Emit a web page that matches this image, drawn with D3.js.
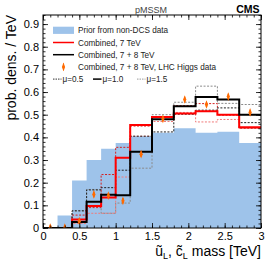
<!DOCTYPE html>
<html>
<head>
<meta charset="utf-8">
<script src="https://cdn.jsdelivr.net/npm/d3@7"></script>
<style>
  body { margin: 0; background: #fff; }
  svg { display: block; font-family: "Liberation Sans", Arial, sans-serif; }
</style>
</head>
<body>
<svg width="274" height="263"></svg>
<script>
// bin edges in TeV
const edges = [0, 0.2, 0.4, 0.6, 0.8, 1.0, 1.2, 1.5, 1.8, 2.1, 2.4, 2.7, 3.0];

// prior from non-DCS data
const prior = [0, 0.055, 0.21, 0.30, 0.35, 0.375, 0.405, 0.42, 0.44, 0.42, 0.425, 0.375];

// combined 7 TeV (mu = 1.0, 0.5, 1.5)
const comb7 = [0, 0, 0.038, 0.097, 0.135, 0.31, 0.455, 0.49, 0.505, 0.515, 0.50, 0.445];
const comb7mu05 = [0, 0, 0.057, 0.09, 0.236, 0.356, 0.45, 0.49, 0.54, 0.549, 0.498, 0.44];
const comb7mu15 = [0, 0, 0.02, 0.065, 0.065, 0.225, 0.405, 0.47, 0.51, 0.468, 0.479, 0.44];

// combined 7 + 8 TeV (mu = 1.0, 0.5, 1.5)
const comb78 = [0, 0, 0.026, 0.116, 0.147, 0.145, 0.337, 0.48, 0.537, 0.578, 0.567, 0.50];
const comb78mu05 = [0, 0, 0.076, 0.168, 0.178, 0.255, 0.405, 0.424, 0.502, 0.52, 0.53, 0.465];
const comb78mu15 = [0, 0, 0.075, 0.17, 0.065, 0.11, 0.264, 0.50, 0.555, 0.626, 0.55, 0.545];

// combined 7 + 8 TeV with LHC Higgs data (points)
const higgs = [0.002, 0.002, 0.03, 0.148, 0.143, 0.12, 0.326, 0.482, 0.567, 0.545, 0.58, 0.51];
const higgsErr = 0.012;

const xTicks = [0, 0.5, 1, 1.5, 2, 2.5, 3];
const yTicks = [0, 0.1, 0.2, 0.3, 0.4, 0.5, 0.6, 0.7, 0.8, 0.9];

const svg = d3.select("svg");
const area = { left: 43, right: 261, top: 15, bottom: 228 };

const x = d3.scaleLinear().domain([0, 3]).range([area.left, area.right]);
const y = d3.scaleLinear().domain([0, 0.94]).range([area.bottom, area.top]);

function stepPoints(vals) {
    return edges.map((e, i) => [e, vals[Math.min(i, vals.length - 1)]]);
}

const stepLine = d3.line()
    .x(d => x(d[0]))
    .y(d => y(d[1]))
    .curve(d3.curveStepAfter);

const stepArea = d3.area()
    .x(d => x(d[0]))
    .y0(y(0))
    .y1(d => y(d[1]))
    .curve(d3.curveStepAfter);

svg.append("clipPath").attr("id", "clip")
    .append("rect")
    .attr("x", area.left).attr("y", area.top)
    .attr("width", area.right - area.left)
    .attr("height", area.bottom - area.top);

let plot = svg.append("g").attr("clip-path", "url(#clip)");

plot.append("path")
    .attr("d", stepArea(stepPoints(prior)))
    .attr("fill", "#9ec3ea");

const dotted = [
    { vals: comb78mu15, color: "#8a8a8a" },
    { vals: comb7mu15, color: "#f07a7a" },
    { vals: comb7mu05, color: "#d42020" },
    { vals: comb78mu05, color: "#222" },
];
dotted.forEach(s => {
    plot.append("path")
        .attr("d", stepLine(stepPoints(s.vals)))
        .attr("fill", "none")
        .attr("stroke", s.color)
        .attr("stroke-width", 1)
        .attr("stroke-dasharray", "2,1.5");
});

plot.append("path")
    .attr("d", stepLine(stepPoints(comb7)))
    .attr("fill", "none")
    .attr("stroke", "#ff0000")
    .attr("stroke-width", 2);

plot.append("path")
    .attr("d", stepLine(stepPoints(comb78)))
    .attr("fill", "none")
    .attr("stroke", "#000")
    .attr("stroke-width", 2);

const centers = edges.slice(0, -1).map((e, i) => (e + edges[i + 1]) / 2);
const diamond = d3.symbol().type(d3.symbolDiamond).size(14);

let pts = plot.selectAll(".pt")
    .data(higgs)
    .enter()
    .append("g")
    .attr("transform", (d, i) => `translate(${x(centers[i])}, ${y(d)})`);
pts.append("line")
    .attr("y1", d => y(d - higgsErr) - y(d))
    .attr("y2", d => y(d + higgsErr) - y(d))
    .attr("stroke", "#ff6a00")
    .attr("stroke-width", 1.2);
pts.append("path")
    .attr("d", diamond)
    .attr("transform", "scale(0.8,1.25)")
    .attr("fill", "#ff6a00");

// axes, ROOT style ticks inside on all four sides
function minor(step, max) {
    return d3.range(0, max + 1e-9, step);
}

svg.append("g")
    .attr("transform", `translate(0, ${area.bottom})`)
    .call(d3.axisBottom(x).tickValues(minor(0.1, 3)).tickSize(-2.5).tickFormat(""));
svg.append("g")
    .attr("transform", `translate(0, ${area.bottom})`)
    .attr("class", "lab")
    .call(d3.axisBottom(x).tickValues(xTicks).tickSize(-5).tickPadding(4).tickFormat(d3.format("")));
svg.append("g")
    .attr("transform", `translate(0, ${area.top})`)
    .call(d3.axisTop(x).tickValues(minor(0.1, 3)).tickSize(-2.5).tickFormat(""));
svg.append("g")
    .attr("transform", `translate(0, ${area.top})`)
    .call(d3.axisTop(x).tickValues(xTicks).tickSize(-5).tickFormat(""));

svg.append("g")
    .attr("transform", `translate(${area.left}, 0)`)
    .call(d3.axisLeft(y).tickValues(minor(0.02, 0.94)).tickSize(-2.5).tickFormat(""));
svg.append("g")
    .attr("transform", `translate(${area.left}, 0)`)
    .attr("class", "lab")
    .call(d3.axisLeft(y).tickValues(yTicks).tickSize(-5).tickPadding(4).tickFormat(d3.format("")));
svg.append("g")
    .attr("transform", `translate(${area.right}, 0)`)
    .call(d3.axisRight(y).tickValues(minor(0.02, 0.94)).tickSize(-2.5).tickFormat(""));
svg.append("g")
    .attr("transform", `translate(${area.right}, 0)`)
    .call(d3.axisRight(y).tickValues(yTicks).tickSize(-5).tickFormat(""));

svg.selectAll(".domain").remove();
svg.selectAll(".tick line").attr("stroke", "#000").attr("stroke-width", 0.8);
svg.selectAll(".lab text")
    .style("font-family", "'Liberation Sans', Arial, sans-serif")
    .style("font-size", "11px")
    .attr("fill", "#000");

svg.append("rect")
    .attr("x", area.left).attr("y", area.top)
    .attr("width", area.right - area.left)
    .attr("height", area.bottom - area.top)
    .attr("fill", "none")
    .attr("stroke", "#000")
    .attr("stroke-width", 1);

// titles
svg.append("text")
    .attr("transform", `translate(15.5, ${area.top}) rotate(-90)`)
    .attr("text-anchor", "end")
    .style("font-size", "14px")
    .text("prob. dens. / TeV");

let xt = svg.append("text")
    .attr("x", area.right)
    .attr("y", 256)
    .attr("text-anchor", "end")
    .style("font-size", "14px");
xt.append("tspan").text("ũ");
xt.append("tspan").attr("dy", 3).style("font-size", "9px").text("L");
xt.append("tspan").attr("dy", -3).text(", c̃");
xt.append("tspan").attr("dy", 3).style("font-size", "9px").text("L");
xt.append("tspan").attr("dy", -3).text(" mass [TeV]");

svg.append("text")
    .attr("x", 151).attr("y", 12.5)
    .attr("text-anchor", "middle")
    .attr("fill", "#444")
    .style("font-size", "9px")
    .text("pMSSM");

svg.append("text")
    .attr("x", 259.5).attr("y", 13.3)
    .attr("text-anchor", "end")
    .style("font-size", "10.5px")
    .style("font-weight", "bold")
    .text("CMS");

// legend
const legY = i => 30.3 + 12.2 * i;
const legFont = "8.2px";
let leg = svg.append("g");

leg.append("rect")
    .attr("x", 53).attr("y", legY(0) - 3.6)
    .attr("width", 21).attr("height", 7.2)
    .attr("fill", "#9ec3ea");
leg.append("line")
    .attr("x1", 53).attr("x2", 74).attr("y1", legY(1)).attr("y2", legY(1))
    .attr("stroke", "#ff0000").attr("stroke-width", 1.5);
leg.append("line")
    .attr("x1", 53).attr("x2", 74).attr("y1", legY(2)).attr("y2", legY(2))
    .attr("stroke", "#000").attr("stroke-width", 1.5);
leg.append("line")
    .attr("x1", 63.5).attr("x2", 63.5).attr("y1", legY(3) - 3.5).attr("y2", legY(3) + 3.5)
    .attr("stroke", "#ff6a00").attr("stroke-width", 1);
leg.append("path")
    .attr("d", diamond)
    .attr("transform", `translate(63.5, ${legY(3)}) scale(0.8,1.25)`)
    .attr("fill", "#ff6a00");

const legLabels = ["Prior from non-DCS data", "Combined, 7 TeV", "Combined, 7 + 8 TeV",
                   "Combined, 7 + 8 TeV, LHC Higgs data"];
legLabels.forEach((t, i) => {
    leg.append("text")
        .attr("x", 78).attr("y", legY(i) + 3)
        .attr("fill", "#222")
        .style("font-size", legFont)
        .text(t);
});

const muItems = [
    { x: 53, text: "μ=0.5", color: "#333", w: 1, dash: "1.5,1" },
    { x: 93, text: "μ=1.0", color: "#000", w: 1.5, dash: null },
    { x: 137, text: "μ=1.5", color: "#999", w: 1, dash: "1.5,1" },
];
muItems.forEach(m => {
    leg.append("line")
        .attr("x1", m.x).attr("x2", m.x + 8.5)
        .attr("y1", legY(4)).attr("y2", legY(4))
        .attr("stroke", m.color).attr("stroke-width", m.w)
        .attr("stroke-dasharray", m.dash);
    leg.append("text")
        .attr("x", m.x + 9.5).attr("y", legY(4) + 3)
        .attr("fill", "#222")
        .style("font-size", legFont)
        .text(m.text);
});
</script>
</body>
</html>
